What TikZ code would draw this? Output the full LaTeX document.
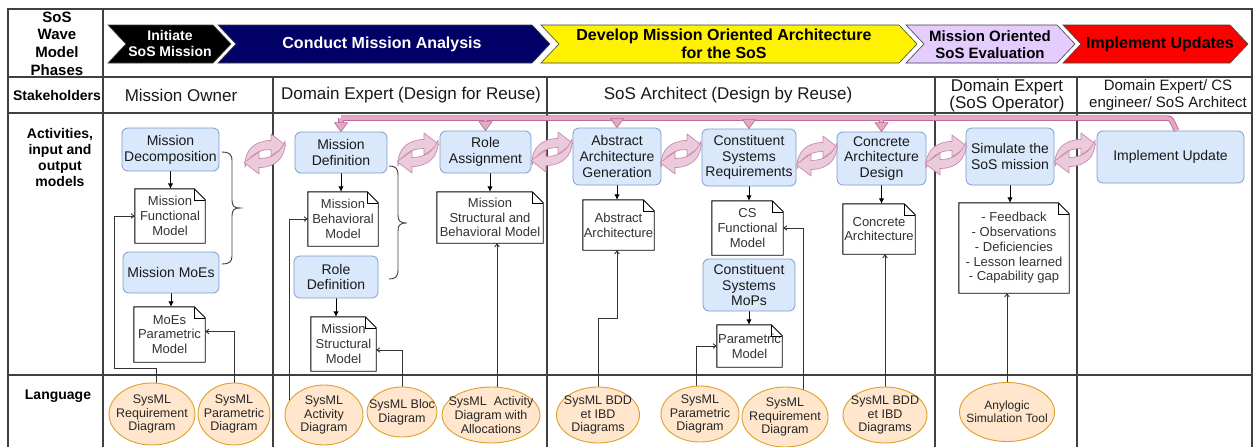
\documentclass[tikz,border=0pt]{standalone}
\usepackage{fontspec}
\setmainfont{Liberation Sans}
\usetikzlibrary{shapes.geometric,arrows.meta,backgrounds,calc}

\definecolor{actfill}{HTML}{DAE8FC}
\definecolor{actdraw}{HTML}{7C9CCB}
\definecolor{elfill}{HTML}{FFE6CC}
\definecolor{eldraw}{HTML}{DDA02A}
\definecolor{pipefill}{HTML}{E3A9C6}
\definecolor{pipedraw}{HTML}{BC6E95}
\definecolor{cycfill}{HTML}{EBCADB}
\definecolor{cycdraw}{HTML}{C98AAB}
\definecolor{navy}{HTML}{000066}
\definecolor{lavender}{HTML}{E5CCFF}

\newcommand\setfs[2]{\fontsize{#1}{#2}\selectfont}

% note shape with a folded top-right corner, drawn round a named node
\newcommand\docfold[1]{%
  \draw[docline] (#1.north west) -- ([xshift=-11pt]#1.north east)
    -- ([yshift=-11pt]#1.north east) -- (#1.south east) -- (#1.south west) -- cycle;
  \draw[docline, line width=0.6pt] ([xshift=-11pt]#1.north east) |- ([yshift=-11pt]#1.north east);}

% phase chevron: left x, right x, style
\newcommand\chev[3]{%
  \filldraw[#3, draw=black!75, line width=0.6pt] (#1,25) -- (#2,25) -- (#2+18,44)
    -- (#2,63) -- (#1,63) -- (#1+18,44) -- cycle;}

% stems of the feedback pipe, and their arrow heads
\newcommand\pstem[1]{\draw[pipeline] (#1.north |- pipeY) -- ([yshift=8.5pt]#1.north);}
\newcommand\pstemfill[1]{\draw[pipeinner] (#1.north |- pipeY) -- ([yshift=8.5pt]#1.north);}
\newcommand\phead[1]{\filldraw[fill=pipefill, draw=pipedraw, line width=0.7pt, line join=round]
  ([xshift=-6.5pt,yshift=9pt]#1.north) -- ([xshift=6.5pt,yshift=9pt]#1.north) -- (#1.north) -- cycle;}

\begin{document}
\begin{tikzpicture}[x=1pt,y=-1pt,
  grid/.style={draw=black!75, line width=1.2pt},
  act/.style={draw=actdraw, fill=actfill, rounded corners=6pt, line width=0.8pt,
    align=center, inner sep=0pt, text=black!90, font=\setfs{14}{15.8}},
  docnode/.style={align=center, inner sep=0pt, text=black!80, font=\setfs{13}{14.8}},
  docline/.style={draw=black, line width=0.9pt},
  lang/.style={ellipse, draw=eldraw, fill=elfill, line width=0.9pt, inner sep=0pt},
  langtxt/.style={align=center, inner sep=0pt, text=black!85, font=\setfs{12.5}{13.6}},
  flow/.style={draw=black, line width=0.9pt, -{Latex[length=5.5pt,width=5.5pt]}},
  feed/.style={draw=black!80, line width=0.9pt, -{Straight Barb[length=3pt,width=4.5pt]}},
  phase/.style={align=center, inner sep=0pt, font=\bfseries\setfs{16}{18}},
  head/.style={align=center, inner sep=0pt, font=\bfseries\setfs{14}{15.7}},
  stake/.style={align=center, inner sep=0pt, text=black!90, font=\setfs{17}{17.5}},
  brace/.style={draw=black!75, line width=0.9pt},
  pipeline/.style={draw=pipedraw, line width=5.5pt},
  pipeinner/.style={draw=pipefill, line width=3.6pt},
  cyc/.pic={
    \filldraw[fill=cycfill, draw=cycdraw, line width=0.7pt, line join=round]
      (-20,13) .. controls (-21,-4) and (-10,-13.5) .. (6,-13.5) -- (6,-20)
      -- (21,-8.5) -- (6,2) -- (6,-4.5) .. controls (-7,-4.5) and (-15,1) .. (-20,13) -- cycle;
    \filldraw[fill=cycfill, draw=cycdraw, line width=0.7pt, line join=round]
      (20,-13) .. controls (21,4) and (10,13.5) .. (-6,13.5) -- (-6,20)
      -- (-21,8.5) -- (-6,-2) -- (-6,4.5) .. controls (7,4.5) and (15,-1) .. (20,-13) -- cycle;
  }
]
\useasboundingbox (0,0) rectangle (1256,447);

% ---------- phase chevrons ----------
\chev{108}{213}{fill=black}
\chev{218}{532}{fill=navy}
\chev{541}{899}{fill=yellow}
\chev{906}{1057}{fill=lavender}
\chev{1063}{1230}{fill=red}
\node[phase, text=white, font=\bfseries\setfs{14}{16}] (p1) at (170,43) {Initiate\\SoS Mission};
\node[phase, text=white] (p2) at (382,44) {Conduct Mission Analysis};
\node[phase] (p3) at (724,44) {Develop Mission Oriented Architecture\\for the SoS};
\node[phase, font=\bfseries\setfs{15}{17}] (p4) at (990,44.5) {Mission Oriented\\SoS Evaluation};
\node[phase] (p5) at (1160,44) {Implement Updates};

% ---------- row headers ----------
\node[head, font=\bfseries\setfs{15}{17.6}] (hphase) at (57,43.5) {SoS\\Wave\\Model\\Phases};
\node[head] (hstake) at (57,95) {Stakeholders};
\node[head] (hact) at (60,157.5) {Activities,\\input and\\output\\models};
\node[head] (hlang) at (58,396) {Language};

% ---------- stakeholders ----------
\node[stake] (s1) at (181,95) {Mission Owner};
\node[stake] (s2) at (411,95) {Domain Expert (Design for Reuse)};
\node[stake] (s3) at (728,95) {SoS Architect (Design by Reuse)};
\node[stake] (s4) at (1007,95.5) {Domain Expert\\(SoS Operator)};
\node[stake, font=\setfs{15}{17}] (s5) at (1168,95.5) {Domain Expert/ CS\\engineer/ SoS Architect};

% ---------- activities ----------
\node[act, minimum width=97pt, minimum height=43pt] (md) at (170.5,149.5) {Mission\\Decomposition};
\node[act, minimum width=96pt, minimum height=41pt] (mmoe) at (171,272.5) {Mission MoEs};
\node[act, minimum width=92pt, minimum height=41pt] (mdef) at (341,152.5) {Mission\\Definition};
\node[act, minimum width=84pt, minimum height=42pt] (rdef) at (336,277) {Role\\Definition};
\node[act, minimum width=91pt, minimum height=42pt] (ra) at (485.5,152) {Role\\Assignment};
\node[act, minimum width=88pt, minimum height=57pt] (aag) at (617,156.5) {Abstract\\Architecture\\Generation};
\node[act, minimum width=94pt, minimum height=57pt] (csr) at (749,157.5) {Constituent\\Systems\\Requirements};
\node[act, minimum width=92pt, minimum height=52pt] (csm) at (749,285) {Constituent\\Systems\\MoPs};
\node[act, minimum width=89pt, minimum height=53pt] (cad) at (881.5,158.5) {Concrete\\Architecture\\Design};
\node[act, minimum width=88pt, minimum height=57pt] (sim) at (1010,156.5) {Simulate the\\SoS mission};
\node[act, minimum width=147pt, minimum height=52pt] (iu) at (1170.5,157) {Implement Update};

% ---------- models ----------
\node[docnode, minimum width=70pt, minimum height=54pt] (dfunc) at (170,216) {Mission\\Functional\\Model};
\node[docnode, minimum width=71pt, minimum height=55pt] (dmoe) at (169.5,334.5) {MoEs\\Parametric\\Model};
\node[docnode, minimum width=70pt, minimum height=54pt] (dbeh) at (343,219) {Mission\\Behavioral\\Model};
\node[docnode, minimum width=65pt, minimum height=54pt] (dstr) at (343.5,344) {Mission\\Structural\\Model};
\node[docnode, minimum width=106pt, minimum height=51pt] (dsb) at (490,217.5) {Mission\\Structural and\\Behavioral Model};
\node[docnode, minimum width=71pt, minimum height=50pt] (daa) at (618.5,225) {Abstract\\Architecture};
\node[docnode, minimum width=71pt, minimum height=54pt] (dcs) at (747.5,228) {CS\\Functional\\Model};
\node[docnode, minimum width=65pt, minimum height=42pt] (dpm) at (749.5,346) {Parametric\\Model};
\node[docnode, minimum width=72pt, minimum height=50pt] (dca) at (879,229) {Concrete\\Architecture};
\node[docnode, minimum width=110pt, minimum height=90pt] (dfb) at (1014,248)
  {- Feedback\\- Observations\\- Deficiencies\\- Lesson learned\\- Capability gap};
\foreach \d in {dfunc,dmoe,dbeh,dstr,dsb,daa,dcs,dpm,dca,dfb} {\docfold{\d}}

% ---------- languages ----------
\node[lang, minimum width=86pt, minimum height=62pt, label={[langtxt]center:SysML\\Requirement\\Diagram}] (lreq) at (152,414) {};
\node[lang, minimum width=72pt, minimum height=62pt, label={[langtxt]center:SysML\\Parametric\\Diagram}] (lpar) at (234,414) {};
\node[lang, minimum width=78pt, minimum height=60pt, label={[langtxt]center:SysML\\Activity\\Diagram}] (lact) at (324,415) {};
\node[lang, minimum width=70pt, minimum height=50pt, label={[langtxt]center:SysML Bloc\\Diagram}] (lbloc) at (402,412) {};
\node[lang, minimum width=98pt, minimum height=56pt, label={[langtxt]center:SysML~~Activity\\Diagram with\\Allocations}] (lalloc) at (491,415) {};
\node[lang, minimum width=83pt, minimum height=56pt, label={[langtxt]center:SysML BDD\\et IBD\\Diagrams}] (lbdd1) at (598,415) {};
\node[lang, minimum width=78pt, minimum height=56pt, label={[langtxt]center:SysML\\Parametric\\Diagram}] (lpar2) at (700,414) {};
\node[lang, minimum width=86pt, minimum height=60pt, label={[langtxt]center:SysML\\Requirement\\Diagram}] (lreq2) at (785,417) {};
\node[lang, minimum width=84pt, minimum height=56pt, label={[langtxt]center:SysML BDD\\et IBD\\Diagrams}] (lbdd2) at (885,415) {};
\node[lang, minimum width=95pt, minimum height=59pt, label={[langtxt, font=\setfs{12}{13}]center:Anylogic\\Simulation Tool}] (lany) at (1007,412) {};

% ---------- braces ----------
\draw[brace] (222,152) .. controls (229,152) and (232,154) .. (232,161) -- (232,200)
  .. controls (232,206) and (234,208) .. (240,208) .. controls (234,208) and (232,210) .. (232,216)
  -- (232,256) .. controls (232,262) and (229,264) .. (222,264);
\draw[brace] (389,166) .. controls (395,166) and (398,168) .. (398,175) -- (398,215)
  .. controls (398,221) and (400,223) .. (407,223) .. controls (400,223) and (398,225) .. (398,231)
  -- (398,270) .. controls (398,277) and (395,279) .. (389,279);

% ---------- iteration cycles between activities ----------
\pic at (265,154) {cyc};
\pic at (418,153) {cyc};
\pic at (552,152) {cyc};
\pic at (681,154) {cyc};
\pic at (817,156) {cyc};
\pic at (946,155) {cyc};
\pic at (1075,153) {cyc};

% ---------- feedback pipe from Implement Update ----------
\coordinate (pipeY) at (0,118);
\draw[pipeline, rounded corners=3pt] (mdef.north |- pipeY) -- (iu.north |- pipeY) -- ([xshift=6pt]iu.north);
\foreach \n in {mdef,ra,aag,csr,cad} {\pstem{\n}}
\draw[pipeinner, rounded corners=3pt] (mdef.north |- pipeY) -- (iu.north |- pipeY) -- ([xshift=6pt]iu.north);
\foreach \n in {mdef,ra,aag,csr,cad} {\pstemfill{\n}}
\foreach \n in {mdef,ra,aag,csr,cad} {\phead{\n}}

% ---------- table and connectors ----------
\begin{scope}[on background layer]
  \fill[white] (0,0) rectangle (1256,447);
  \draw[grid] (8,9) rectangle (1252,470);
  \draw[grid] (8,77) -- (1252,77);
  \draw[grid] (8,113) -- (1252,113);
  \draw[grid] (8,375) -- (1252,375);
  \draw[grid] (103,9) -- (103,470);
  \foreach \cx in {273,547,935,1077} {\draw[grid] (\cx,77) -- (\cx,470);}

  \draw[flow] (md.south) -- (md.south |- dfunc.north);
  \draw[flow] (mmoe.south) -- (mmoe.south |- dmoe.north);
  \draw[flow] (mdef.south) -- (mdef.south |- dbeh.north);
  \draw[flow] (rdef.south) -- (rdef.south |- dstr.north);
  \draw[flow] (dsb.north |- ra.south) -- (dsb.north);
  \draw[flow] (aag.south) -- (aag.south |- daa.north);
  \draw[flow] (csr.south) -- (csr.south |- dcs.north);
  \draw[flow] (csm.south) -- (csm.south |- dpm.north);
  \draw[flow] (cad.south) -- (cad.south |- dca.north);
  \draw[flow] (sim.south) -- (sim.south |- dfb.north);

  \coordinate (j1) at (114,368);
  \draw[feed] ([xshift=4pt]lreq.north) |- (j1) |- (dfunc.west);
  \draw[feed] (lpar.north) |- ([yshift=3pt]dmoe.east);
  \draw[feed] ($(lact.center)+(-35,0)$) |- (dbeh.west);
  \draw[feed] (lbloc.north) |- ([yshift=-6pt]dstr.east);
  \draw[feed] ([xshift=6pt]lalloc.north) -- ([xshift=6pt]lalloc.north |- dsb.south);
  \coordinate (j2) at (617,318);
  \draw[feed] (lbdd1.north) |- (j2) -- (j2 |- daa.south);
  \draw[feed] ([xshift=-4pt]lpar2.north) |- (dpm.west);
  \draw[feed] ($(lreq2.center)+(18,0)$) |- (dcs.east);
  \draw[feed] (lbdd2.north) -- (lbdd2.north |- dca.south);
  \draw[feed] (lany.north) -- (lany.north |- dfb.south);
\end{scope}
\end{tikzpicture}
\end{document}
